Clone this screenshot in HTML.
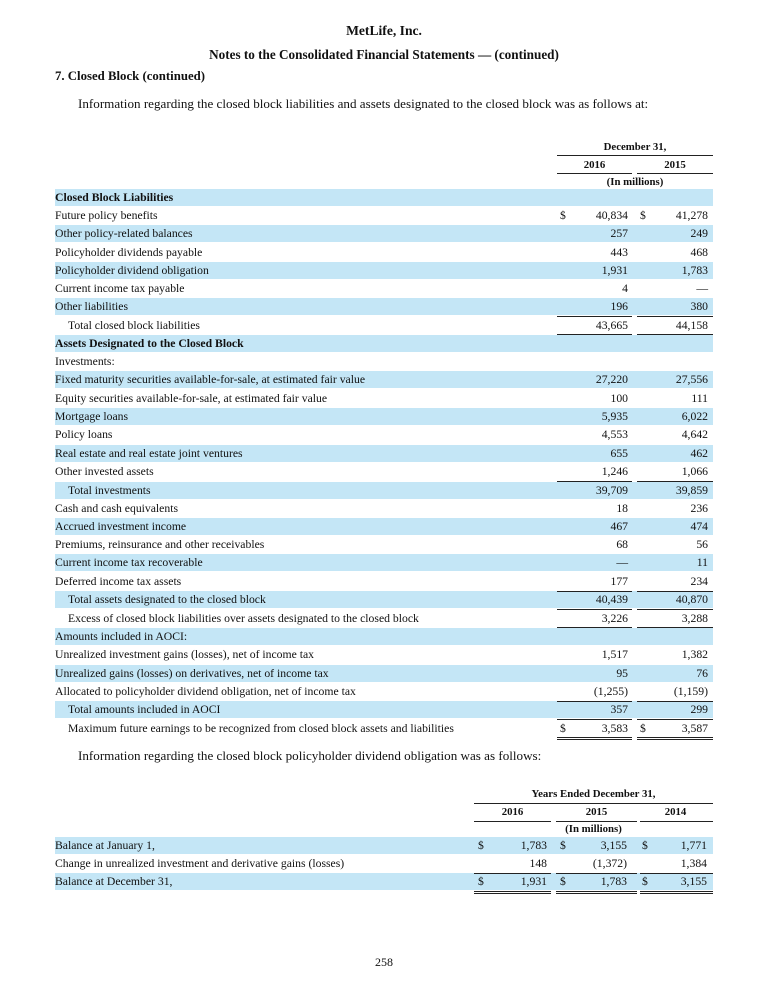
<!DOCTYPE html>
<html><head><meta charset="utf-8"><style>
body{margin:0;width:768px;height:1004px;background:#fff;font-family:"Liberation Serif",serif;color:#111;position:relative;overflow:hidden}
.a{position:absolute;white-space:nowrap}
.h{font-size:10.8px}
.r{position:absolute;left:55px;width:658px;height:17px;line-height:17px;font-size:11.7px}
.s{background:#c4e6f6}
.r span{position:absolute;top:0}
.l{left:0}.i{left:13px}
.b{font-weight:bold}
.v1{right:85px}.v2{right:5px}.d1{left:505px}.d2{left:585px}
.ln{position:absolute;height:1px;background:#222}
.t2 .w1{right:166px}.t2 .w2{right:86px}.t2 .w3{right:6px}
.t2 .e1{left:423px}.t2 .e2{left:505px}.t2 .e3{left:587px}
</style></head><body>
<div class="a b" style="top:23px;left:0;width:768px;text-align:center;font-size:13.6px">MetLife, Inc.</div>
<div class="a b" style="top:47px;left:0;width:768px;text-align:center;font-size:13.2px">Notes to the Consolidated Financial Statements — (continued)</div>
<div class="a b" style="top:69px;left:55px;font-size:12.8px">7. Closed Block (continued)</div>
<div class="a" style="top:96px;left:78px;font-size:13.1px">Information regarding the closed block liabilities and assets designated to the closed block was as follows at:</div>

<div class="a b h" style="top:141px;left:557px;width:156px;text-align:center">December 31,</div>
<div class="ln" style="top:155px;left:557px;width:156px"></div>
<div class="a b h" style="top:159px;left:557px;width:75px;text-align:center">2016</div>
<div class="a b h" style="top:159px;left:637px;width:76px;text-align:center">2015</div>
<div class="ln" style="top:173px;left:557px;width:75px"></div>
<div class="ln" style="top:173px;left:637px;width:76px"></div>
<div class="a b h" style="top:176px;left:557px;width:156px;text-align:center">(In millions)</div>

<div class="r s" style="top:189px"><span class="l b">Closed Block Liabilities</span></div>
<div class="r" style="top:207px"><span class="l">Future policy benefits</span><span class="d1">$</span><span class="v1">40,834</span><span class="d2">$</span><span class="v2">41,278</span></div>
<div class="r s" style="top:225px"><span class="l">Other policy-related balances</span><span class="v1">257</span><span class="v2">249</span></div>
<div class="r" style="top:244px"><span class="l">Policyholder dividends payable</span><span class="v1">443</span><span class="v2">468</span></div>
<div class="r s" style="top:262px"><span class="l">Policyholder dividend obligation</span><span class="v1">1,931</span><span class="v2">1,783</span></div>
<div class="r" style="top:280px"><span class="l">Current income tax payable</span><span class="v1">4</span><span class="v2">—</span></div>
<div class="r s" style="top:298px"><span class="l">Other liabilities</span><span class="v1">196</span><span class="v2">380</span></div>
<div class="r" style="top:317px"><span class="i">Total closed block liabilities</span><span class="v1">43,665</span><span class="v2">44,158</span></div>
<div class="r s" style="top:335px"><span class="l b">Assets Designated to the Closed Block</span></div>
<div class="r" style="top:353px"><span class="l">Investments:</span></div>
<div class="r s" style="top:371px"><span class="l">Fixed maturity securities available-for-sale, at estimated fair value</span><span class="v1">27,220</span><span class="v2">27,556</span></div>
<div class="r" style="top:390px"><span class="l">Equity securities available-for-sale, at estimated fair value</span><span class="v1">100</span><span class="v2">111</span></div>
<div class="r s" style="top:408px"><span class="l">Mortgage loans</span><span class="v1">5,935</span><span class="v2">6,022</span></div>
<div class="r" style="top:426px"><span class="l">Policy loans</span><span class="v1">4,553</span><span class="v2">4,642</span></div>
<div class="r s" style="top:445px"><span class="l">Real estate and real estate joint ventures</span><span class="v1">655</span><span class="v2">462</span></div>
<div class="r" style="top:463px"><span class="l">Other invested assets</span><span class="v1">1,246</span><span class="v2">1,066</span></div>
<div class="r s" style="top:482px"><span class="i">Total investments</span><span class="v1">39,709</span><span class="v2">39,859</span></div>
<div class="r" style="top:500px"><span class="l">Cash and cash equivalents</span><span class="v1">18</span><span class="v2">236</span></div>
<div class="r s" style="top:518px"><span class="l">Accrued investment income</span><span class="v1">467</span><span class="v2">474</span></div>
<div class="r" style="top:536px"><span class="l">Premiums, reinsurance and other receivables</span><span class="v1">68</span><span class="v2">56</span></div>
<div class="r s" style="top:554px"><span class="l">Current income tax recoverable</span><span class="v1">—</span><span class="v2">11</span></div>
<div class="r" style="top:573px"><span class="l">Deferred income tax assets</span><span class="v1">177</span><span class="v2">234</span></div>
<div class="r s" style="top:591px"><span class="i">Total assets designated to the closed block</span><span class="v1">40,439</span><span class="v2">40,870</span></div>
<div class="r" style="top:610px"><span class="i">Excess of closed block liabilities over assets designated to the closed block</span><span class="v1">3,226</span><span class="v2">3,288</span></div>
<div class="r s" style="top:628px"><span class="l">Amounts included in AOCI:</span></div>
<div class="r" style="top:646px"><span class="l">Unrealized investment gains (losses), net of income tax</span><span class="v1">1,517</span><span class="v2">1,382</span></div>
<div class="r s" style="top:665px"><span class="l">Unrealized gains (losses) on derivatives, net of income tax</span><span class="v1">95</span><span class="v2">76</span></div>
<div class="r" style="top:683px"><span class="l">Allocated to policyholder dividend obligation, net of income tax</span><span class="v1">(1,255)</span><span class="v2">(1,159)</span></div>
<div class="r s" style="top:701px"><span class="i">Total amounts included in AOCI</span><span class="v1">357</span><span class="v2">299</span></div>
<div class="r" style="top:720px"><span class="i">Maximum future earnings to be recognized from closed block assets and liabilities</span><span class="d1">$</span><span class="v1">3,583</span><span class="d2">$</span><span class="v2">3,587</span></div>

<div class="ln" style="top:316px;left:557px;width:75px"></div><div class="ln" style="top:316px;left:637px;width:76px"></div>
<div class="ln" style="top:334px;left:557px;width:75px"></div><div class="ln" style="top:334px;left:637px;width:76px"></div>
<div class="ln" style="top:481px;left:557px;width:75px"></div><div class="ln" style="top:481px;left:637px;width:76px"></div>
<div class="ln" style="top:591px;left:557px;width:75px"></div><div class="ln" style="top:591px;left:637px;width:76px"></div>
<div class="ln" style="top:609px;left:557px;width:75px"></div><div class="ln" style="top:609px;left:637px;width:76px"></div>
<div class="ln" style="top:627px;left:557px;width:75px"></div><div class="ln" style="top:627px;left:637px;width:76px"></div>
<div class="ln" style="top:701px;left:557px;width:75px"></div><div class="ln" style="top:701px;left:637px;width:76px"></div>
<div class="ln" style="top:719px;left:557px;width:75px"></div><div class="ln" style="top:719px;left:637px;width:76px"></div>
<div class="ln" style="top:737px;left:557px;width:75px"></div><div class="ln" style="top:737px;left:637px;width:76px"></div>
<div class="ln" style="top:739px;left:557px;width:75px"></div><div class="ln" style="top:739px;left:637px;width:76px"></div>

<div class="a" style="top:748px;left:78px;font-size:13.1px">Information regarding the closed block policyholder dividend obligation was as follows:</div>

<div class="a b h" style="top:788px;left:474px;width:239px;text-align:center">Years Ended December 31,</div>
<div class="ln" style="top:803px;left:474px;width:239px"></div>
<div class="a b h" style="top:806px;left:474px;width:77px;text-align:center">2016</div>
<div class="a b h" style="top:806px;left:556px;width:81px;text-align:center">2015</div>
<div class="a b h" style="top:806px;left:638px;width:75px;text-align:center">2014</div>
<div class="ln" style="top:821px;left:474px;width:77px"></div>
<div class="ln" style="top:821px;left:556px;width:81px"></div>
<div class="ln" style="top:821px;left:640px;width:73px"></div>
<div class="a b h" style="top:823px;left:474px;width:239px;text-align:center">(In millions)</div>

<div class="r s t2" style="top:837px"><span class="l">Balance at January 1,</span><span class="e1">$</span><span class="w1">1,783</span><span class="e2">$</span><span class="w2">3,155</span><span class="e3">$</span><span class="w3">1,771</span></div>
<div class="r t2" style="top:855px"><span class="l">Change in unrealized investment and derivative gains (losses)</span><span class="w1">148</span><span class="w2">(1,372)</span><span class="w3">1,384</span></div>
<div class="r s t2" style="top:873px"><span class="l">Balance at December 31,</span><span class="e1">$</span><span class="w1">1,931</span><span class="e2">$</span><span class="w2">1,783</span><span class="e3">$</span><span class="w3">3,155</span></div>

<div class="ln" style="top:873px;left:474px;width:77px"></div><div class="ln" style="top:873px;left:556px;width:81px"></div><div class="ln" style="top:873px;left:640px;width:73px"></div>
<div class="ln" style="top:891px;left:474px;width:77px"></div><div class="ln" style="top:891px;left:556px;width:81px"></div><div class="ln" style="top:891px;left:640px;width:73px"></div>
<div class="ln" style="top:893px;left:474px;width:77px"></div><div class="ln" style="top:893px;left:556px;width:81px"></div><div class="ln" style="top:893px;left:640px;width:73px"></div>

<div class="a" style="top:955px;left:0;width:768px;text-align:center;font-size:12px">258</div>
</body></html>
